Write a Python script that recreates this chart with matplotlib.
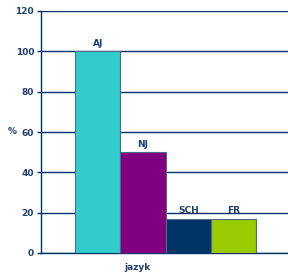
import numpy as np
import matplotlib.pyplot as plt

jazyky = ['AJ', 'NJ', 'SCH', 'FR']
hodnoty = [100, 50, 17, 17]
barvy = ['#33CCCC', '#800080', '#003366', '#99CC00']
yticky = [0, 20, 40, 60, 80, 100, 120]

navy = '#003366'
txt = '#1F3F6F'

fig = plt.figure(figsize=(2.88, 2.78), dpi=100)
ax = fig.add_axes([41/288, 25/278, 247/288, 242/278])

x = np.arange(len(jazyky))
ax.bar(x, hodnoty, width=1.0, color=barvy, edgecolor='#4F6A8A', linewidth=0.8, zorder=3)
for xi, h, lab in zip(x, hodnoty, jazyky):
    ax.text(xi, h + 1.8, lab, ha='center', va='bottom', fontsize=6.5,
            fontweight='bold', color=txt)

ax.set_ylim(0, 120)
ax.set_xlim(-1.25, 4.2)
ax.set_yticks(yticky)
ax.set_yticklabels([str(t) for t in yticky], fontsize=6.5, fontweight='bold', color=txt)
ax.set_xticks([])
ax.yaxis.grid(True, color=navy, linewidth=1.0, zorder=0)
ax.set_axisbelow(True)
ax.tick_params(axis='y', direction='out', length=3, color=navy, width=1, pad=2)

for s in ['top', 'right']:
    ax.spines[s].set_visible(False)
ax.spines['left'].set_color(navy)
ax.spines['bottom'].set_color(navy)
ax.spines['left'].set_linewidth(1.0)
ax.spines['bottom'].set_linewidth(1.0)

fig.text(12/288, 1 - 132/278, '%', ha='center', va='center', fontsize=6.5,
         fontweight='bold', color=txt)
fig.text(137/288, 1 - 268/278, 'jazyk', ha='center', va='center', fontsize=6.5,
         fontweight='bold', color=txt)

fig.savefig('out.png', dpi=100)
